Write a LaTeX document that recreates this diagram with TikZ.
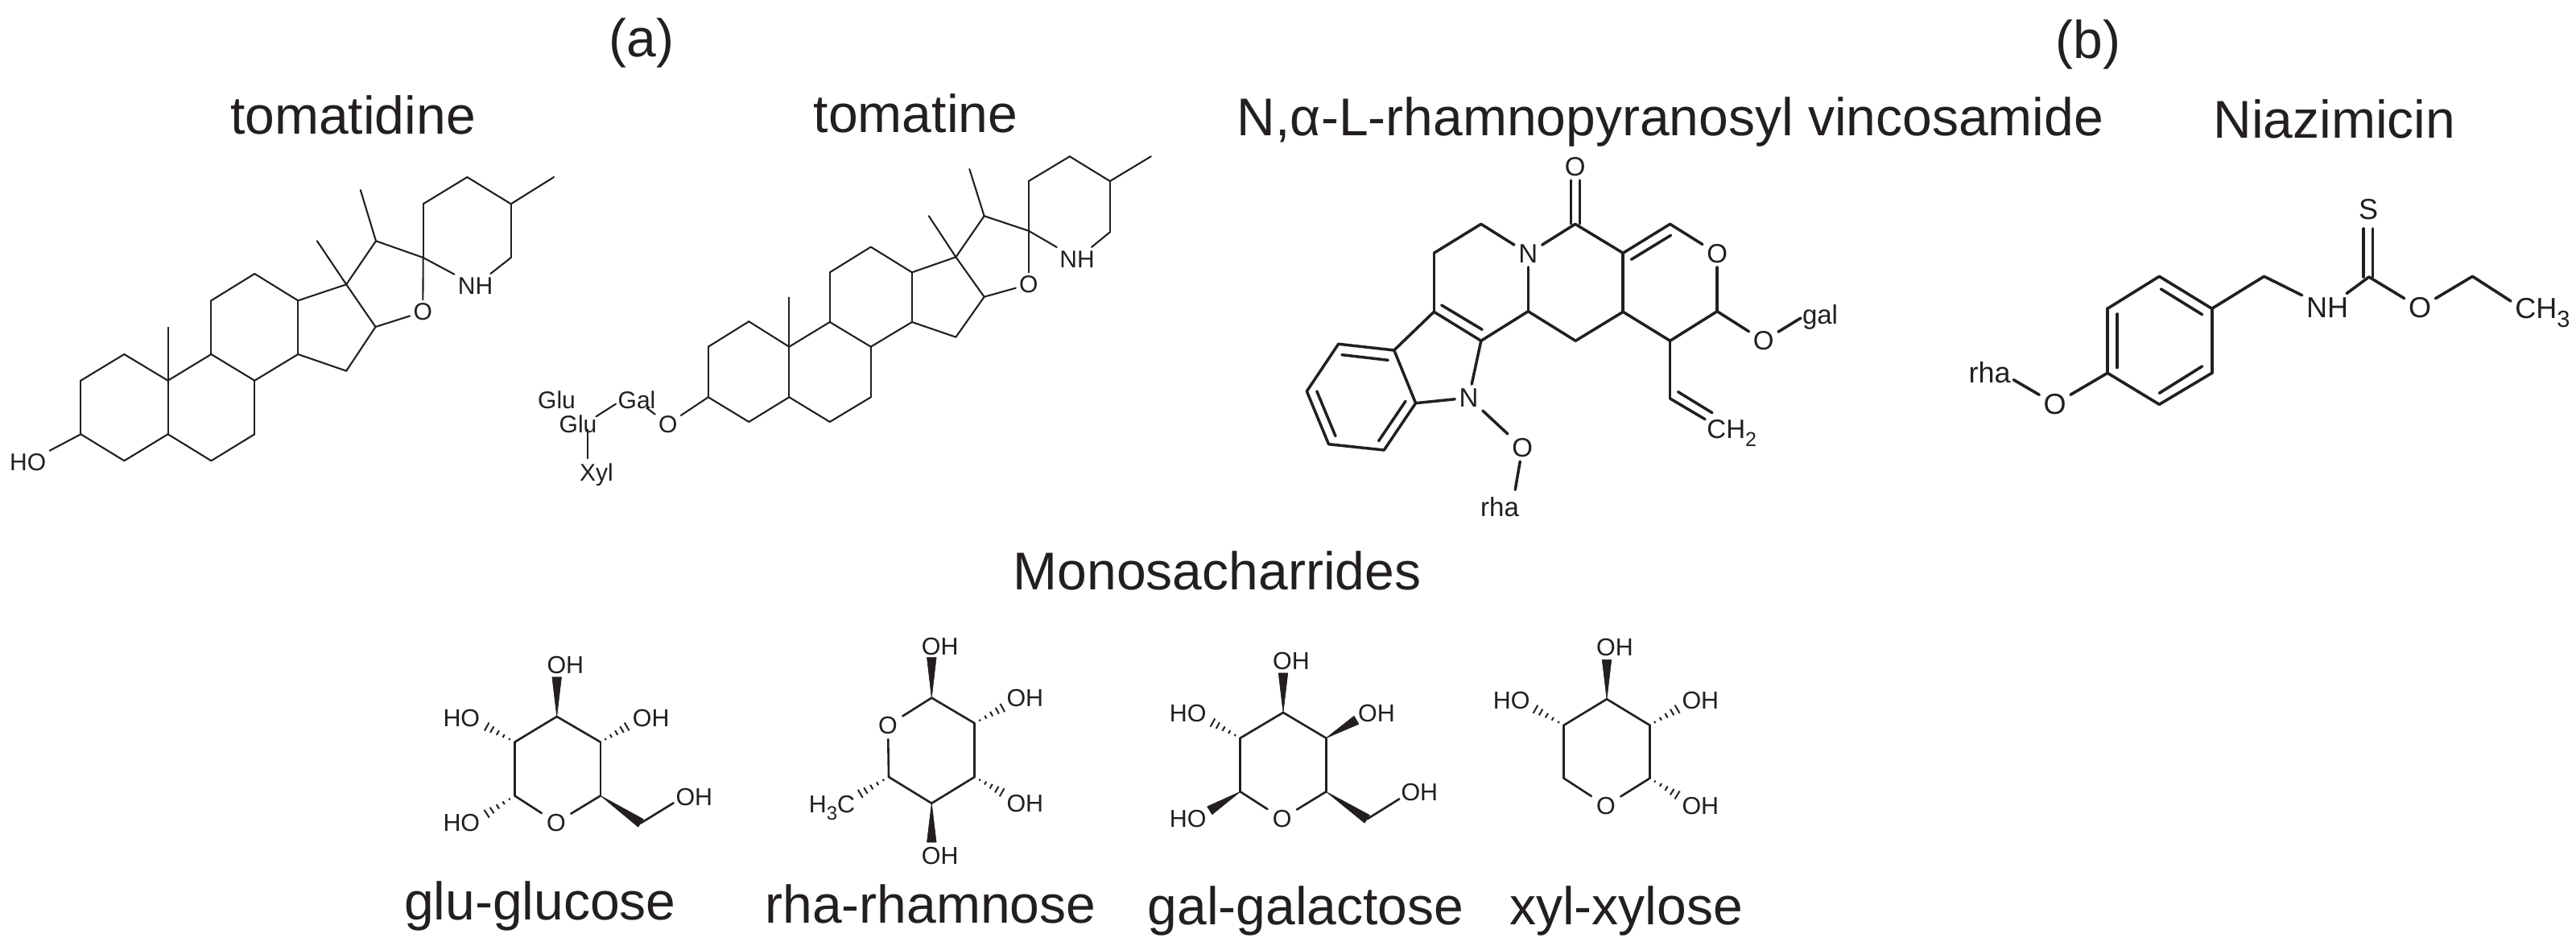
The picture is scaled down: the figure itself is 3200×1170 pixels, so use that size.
\documentclass[tikz,border=0pt]{standalone}
\usepackage{fontspec}
\setmainfont{Liberation Sans}
\usetikzlibrary{calc}
\definecolor{ink}{HTML}{231F20}
\newcommand\pts[1]{\foreach \n/\px/\py in {#1} {\coordinate (\n) at (\px,\py);}}
\newcommand\bonds[2][]{\foreach \ba/\bb in {#2} {\draw[#1] (\ba) -- (\bb);}}
\newcommand\hashb[2]{\foreach \tt/\ww in {.18/.6,.38/1.1,.58/1.6,.78/2.2,.96/2.9} {\draw[hashline] ($(#1)!\tt!(#2)!\ww pt!90:(#2)$) -- ($(#1)!\tt!(#2)!\ww pt!-90:(#2)$);}}
\newcommand\wedgeb[2]{\fill[wedgefill] (#1) -- ($(#2)!2.9pt!90:(#1)$) -- ($(#2)!2.9pt!-90:(#1)$) -- cycle;}
\newcommand\sbs[2]{\raisebox{-.3em}{\fontsize{#1}{#1}\selectfont #2}}
\tikzset{
  title/.style={anchor=base,inner sep=0pt,text=ink,font=\fontsize{33}{36}\selectfont},
  labS/.style={inner sep=3pt,text=ink,font=\fontsize{15.2}{17}\selectfont},
  labV/.style={inner sep=2.5pt,text=ink,font=\fontsize{16.5}{18}\selectfont},
  labN/.style={inner sep=2.5pt,text=ink,font=\fontsize{18}{20}\selectfont},
  labG/.style={inner sep=2pt,text=ink,font=\fontsize{15}{16}\selectfont},
  hashline/.style={draw=ink,line width=1pt},
  wedgefill/.style={fill=ink,draw=ink,line width=.3pt,line join=round},
  thinb/.style={draw=ink,line width=1.05pt,line cap=round},
  vinb/.style={draw=ink,line width=1.75pt,line cap=round},
  niab/.style={draw=ink,line width=1.8pt,line cap=round},
  sugb/.style={draw=ink,line width=1.3pt,line cap=round}
}
\begin{document}
\begin{tikzpicture}[x=0.5pt,y=-0.5pt]
\fill[white] (0,0) rectangle (3200,1170);
\useasboundingbox (0,0) rectangle (3200,1170);
% titles
\node[title] (ta) at (797,71) {(a)};
\node[title] (tb) at (2594,73) {(b)};
\node[title] (t1) at (438.5,167) {tomatidine};
\node[title] (t2) at (1137.5,165) {tomatine};
\node[title] (t3) at (2075,169) {N,α-L-rhamnopyranosyl vincosamide};
\node[title] (t4) at (2900,172) {Niazimicin};
\node[title] (t5) at (1512,732) {Monosacharrides};
\node[title] (t6) at (671,1142) {glu-glucose};
\node[title] (t7) at (1156,1146) {rha-rhamnose};
\node[title] (t8) at (1622,1148) {gal-galactose};
\node[title] (t9) at (2020,1148) {xyl-xylose};
% tomatidine
\pts{A1/100.4/472.7,A2/154.3/440,A3/208.6/472.7,A4/208.6/539.3,A5/154.3/572.3,A6/100.4/539.3,
B1/262.4/440,B2/316.3/472.7,B3/316.3/539.3,B4/262.4/572.3,
C1/262.4/373.3,C2/316.3/340,C3/370.2/373.3,C4/370.2/440,
D1/430.2/353.3,D2/466.5/406,D3/430.2/460.7,E1/467/299.3,E2/525.7/320,
M1/393.9/299.3,M2/447.8/236,M3/208.6/406.7,
P1/525.7/253.3,P2/580.4/220,P3/634.7/253.3,P4/634.7/320,PM/688/220}
\node[labG] (AO) at (525.3,387.3) {O};
\node[labG] (ANH) at (590.6,354.7) {NH};
\node[labG] (AHO) at (34.7,574) {HO};
\bonds[thinb]{A1/A2,A2/A3,A3/A4,A4/A5,A5/A6,A6/A1,A3/B1,B1/B2,B2/B3,B3/B4,B4/A4,B1/C1,C1/C2,C2/C3,C3/C4,C4/B2,C3/D1,D1/D2,D2/D3,D3/C4,D1/E1,E1/E2,D1/M1,E1/M2,A3/M3,E2/P1,P1/P2,P2/P3,P3/P4,P3/PM,D2/AO,E2/AO,E2/ANH,P4/ANH,A6/AHO}
% tomatine
\pts{a1/879.8/430.7,a2/930.3/399.3,a3/980.3/430.7,a4/980.3/493.3,a5/930.3/524,a6/879.8/493.3,
b1/1030.8/400,b2/1081.8/430.7,b3/1081.8/493.3,b4/1030.8/524,
c1/1030.8/338.3,c2/1081.8/306.7,c3/1132.9/338.3,c4/1132.9/400,
d1/1187.4/319.3,d2/1222.6/368.7,d3/1187.4/418.7,e1/1222.6/268.3,e2/1277.8/286.7,
m1/1153.8/268.3,m2/1204.3/210,m3/980.3/369.3,
p1/1277.8/225,p2/1328.8/194.3,p3/1378.8/225,p4/1378.8/288.3,pm/1429.8/194.3,
og/803.3/506.7,gg1/765/501.7,gg2/740.5/517.3,gx1/729.8/533.3,gx2/729.8/569.3}
\node[labG] (TO) at (1277.8,353.3) {O};
\node[labG] (TNH) at (1338,321.7) {NH};
\node[labG] (TO2) at (829.8,526.7) {O};
\node[labG,inner sep=0pt] (TGal) at (791,496.7) {Gal};
\node[labG,inner sep=0pt] (TGlua) at (691.5,496.7) {Glu};
\node[labG,inner sep=0pt] (TGlub) at (718,526.7) {Glu};
\node[labG,inner sep=0pt] (TXyl) at (741,590) {Xyl};
\bonds[thinb]{a1/a2,a2/a3,a3/a4,a4/a5,a5/a6,a6/a1,a3/b1,b1/b2,b2/b3,b3/b4,b4/a4,b1/c1,c1/c2,c2/c3,c3/c4,c4/b2,c3/d1,d1/d2,d2/d3,d3/c4,d1/e1,e1/e2,d1/m1,e1/m2,a3/m3,e2/p1,p1/p2,p2/p3,p3/p4,p3/pm,d2/TO,e2/TO,e2/TNH,p4/TNH,a6/TO2,TO2/og,gg1/gg2,gx1/gx2}
% vincosamide
\pts{v1/1839.8/278.3,v2/1781.3/314.3,v3/1781.3/387.3,v4/1839.8/423.3,v5/1898.3/386.7,v6/1957.2/423.3,v7/2016.2/387.3,v8/2016.2/314.3,v9/2074.6/278.3,v10/2133.1/386.7,v11/2074.6/423.3,vc/1956.8/278.3,
w1/1731.8/435,w2/1662.6/427.3,w3/1623.3/486,w4/1650.5/551.7,w5/1719.3/559,w6/1758.6/500.7,
x1/2074.6/495,x2/2118/520.7,x3/2084.5/486.7,x4/2126.9/512.7,
ca1/1951.5/224,ca2/1951.5/278,cb1/1962.5/224,cb2/1962.5/278,
i1/2026.4/322.3,i2/2075.5/292.3,i3/1790.7/379,i4/1841.2/409.3,
i5/1667/440.7,i6/1724.2/447.3,i7/1635.8/486,i8/1659/541.7,i9/1712.6/547.7,i10/1746/498.3,
galb/2237/395,rhab/1882.2/608.3}
\node[labV] (VOt) at (1956.8,207.3) {O};
\node[labV] (VN) at (1898.3,315) {N};
\node[labV] (VOr) at (2133.1,315) {O};
\node[labV] (VOg) at (2190.7,423.3) {O};
\node[labV,inner sep=0pt] (Vgal) at (2261,394) {gal};
\node[labV] (VN2) at (1824.6,494) {N};
\node[labV] (VO2) at (1891.2,556) {O};
\node[labV,inner sep=0pt] (Vrha) at (1863,629.3) {rha};
\node[labV,anchor=base west,inner sep=0pt] (VCH) at (2120,545) {CH\sbs{12.5}{2}};
\bonds[vinb]{v1/v2,v2/v3,v3/v4,v4/v5,v5/v6,v6/v7,v7/v8,v8/v9,v8/vc,v7/v11,v11/v10,v5/VN,v1/VN,vc/VN,v9/VOr,v10/VOr,v10/VOg,VOg/galb,v3/w1,w1/w2,w2/w3,w3/w4,w4/w5,w5/w6,w6/w1,v4/VN2,w6/VN2,VN2/VO2,VO2/rhab,v11/x1,x1/x2,x3/x4,ca1/ca2,cb1/cb2,i1/i2,i3/i4,i5/i6,i7/i8,i9/i10}
% niazimicin
\pts{n1/2682.3/343.3,n2/2747.7/383.3,n3/2747.7/463.3,n4/2682.3/502.3,n5/2618/463.3,n6/2618/383.3,
n7/2812.5/343.3,n8/2942.8/344,n9/3071.4/343.3,
j1/2684.4/359,j2/2735.6/390.7,j3/2630/390,j4/2630/456.7,j5/2682.3/488.3,j6/2735.6/455,
sa1/2936/284,sa2/2936/344,sb1/2947.5/284,sb2/2947.5/344,rb/2501.3/471.7,ce/3119/374}
\node[labN] (NNH) at (2891,382.3) {NH};
\node[labN] (NO) at (3006,382.3) {O};
\node[labN,inner sep=0pt] (NS) at (2942,260) {S};
\node[labN] (NO1) at (2552.6,501.7) {O};
\node[labN,inner sep=0pt] (Nrha) at (2471.5,462.7) {rha};
\node[labN,anchor=base west,inner sep=0pt] (NCH) at (3124,396) {CH\sbs{14.5}{3}};
\bonds[niab]{n1/n2,n2/n3,n3/n4,n4/n5,n5/n6,n6/n1,n2/n7,n7/NNH,NNH/n8,n8/NO,NO/n9,n9/ce,n5/NO1,NO1/rb,j1/j2,j3/j4,j5/j6,sa1/sa2,sb1/sb2}
% glucose
\pts{g1/691.7/890,g2/746/921.7,g3/746/988.3,g5/639.3/988.3,g6/639.3/921.7,
gT/691.7/841,gL/603.3/901.7,gR/780/901.7,gB/603.3/1011.7,gC/796/1022.3,gD/836.7/997.3}
\node[labS] (gO) at (691,1021.7) {O};
\node[labS] (gOHt) at (702.3,825.7) {OH};
\node[labS] (gHOl) at (573.3,891.7) {HO};
\node[labS] (gOHr) at (808.7,891.7) {OH};
\node[labS] (gHOb) at (573.3,1021.7) {HO};
\node[labS] (gOHc) at (862.3,990) {OH};
\bonds[sugb]{g1/g2,g2/g3,g3/gO,gO/g5,g5/g6,g6/g1,gC/gD}
\wedgeb{g1}{gT}\wedgeb{g3}{gC}
\hashb{g6}{gL}\hashb{g2}{gR}\hashb{g5}{gB}
% rhamnose
\pts{r1/1157.3/866.7,r2/1210.7/898.3,r3/1210.7/965,r4/1157.3/997.7,r5/1104/965,
rT/1157.3/816.7,rR/1246.7/878.3,rS/1246/985,rB/1157.3/1046,rL/1067.3/986.7}
\node[labS] (rO) at (1103,901) {O};
\node[labS] (rOHt) at (1167.7,802.7) {OH};
\node[labS] (rOHr) at (1273.3,867.3) {OH};
\node[labS] (rOHs) at (1273.3,998.3) {OH};
\node[labS] (rOHb) at (1167.7,1063.3) {OH};
\node[labS,anchor=base,inner sep=0pt] (rCH) at (1033.5,1009.3) {H\sbs{12}{3}C};
\bonds[sugb]{r1/r2,r2/r3,r3/r4,r4/r5,r5/rO,rO/r1}
\wedgeb{r1}{rT}\wedgeb{r4}{rB}
\hashb{r2}{rR}\hashb{r3}{rS}\hashb{r5}{rL}
% galactose
\pts{h1/1594/885,h2/1647.3/916.7,h3/1647.3/983.3,h5/1540.7/983.3,h6/1540.7/916.7,
hT/1594/836,hL/1505/896.7,hR/1685/894.3,hB/1502.7/1006.7,hC/1698.3/1017.3,hD/1738.3/992.3}
\node[labS] (hO) at (1592.7,1016.7) {O};
\node[labS] (hOHt) at (1604,821) {OH};
\node[labS] (hHOl) at (1475.7,885.7) {HO};
\node[labS] (hOHr) at (1710,885.7) {OH};
\node[labS] (hHOb) at (1475.7,1016.7) {HO};
\node[labS] (hOHc) at (1763.3,984) {OH};
\bonds[sugb]{h1/h2,h2/h3,h3/hO,hO/h5,h5/h6,h6/h1,hC/hD}
\wedgeb{h1}{hT}\wedgeb{h2}{hR}\wedgeb{h3}{hC}\wedgeb{h5}{hB}
\hashb{h6}{hL}
% xylose
\pts{k1/1996/868.3,k2/2049.3/900.7,k3/2049.3/966.7,k5/1942.7/966.7,k6/1942.7/900.7,
kT/1996/819.3,kL/1906/880,kR/2085/880,kS/2085/988.3}
\node[labS] (kO) at (1995,1000.7) {O};
\node[labS] (kOHt) at (2006,804.3) {OH};
\node[labS] (kHOl) at (1877.7,870) {HO};
\node[labS] (kOHr) at (2112.3,870) {OH};
\node[labS] (kOHs) at (2112.3,1000.7) {OH};
\bonds[sugb]{k1/k2,k2/k3,k3/kO,kO/k5,k5/k6,k6/k1}
\wedgeb{k1}{kT}
\hashb{k6}{kL}\hashb{k2}{kR}\hashb{k3}{kS}
\end{tikzpicture}
\end{document}
